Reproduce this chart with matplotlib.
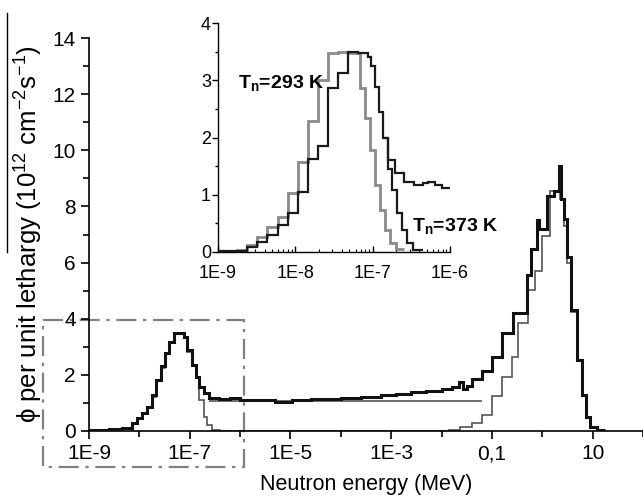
import matplotlib
matplotlib.use('Agg')
import matplotlib.pyplot as plt
import numpy as np
from matplotlib.lines import Line2D
from matplotlib.ticker import FixedLocator, FixedFormatter, MultipleLocator, LogLocator, NullFormatter

plt.rcParams['font.family'] = ['Liberation Sans', 'DejaVu Sans']
plt.rcParams['mathtext.default'] = 'regular'

# ---- main spectrum (log10 of energy in MeV for bin edges) ----
main_black_logE = [-9.0, -8.6, -8.35, -8.15, -8.05, -7.95, -7.85, -7.75, -7.67, -7.57, -7.49, -7.41,
                   -7.31, -7.21, -7.11, -7.05, -6.95, -6.87, -6.81, -6.71, -6.61, -6.41, -6.2, -6.0,
                   -5.6, -5.3, -4.97, -4.6, -4.0, -3.6, -3.2, -2.9, -2.6, -2.3, -2.0, -1.8, -1.65,
                   -1.58, -1.5, -1.39, -1.19, -0.99, -0.79, -0.59, -0.31, -0.23, -0.11, -0.06, 0.1,
                   0.24, 0.34, 0.37, 0.44, 0.5, 0.58, 0.68, 0.78, 0.86, 0.94, 1.08, 1.25]
main_black_vals = [0.02, 0.06, 0.12, 0.28, 0.46, 0.64, 0.87, 1.3, 1.82, 2.3, 2.78, 3.18, 3.5, 3.48,
                   3.35, 2.9, 2.36, 1.93, 1.57, 1.35, 1.19, 1.15, 1.17, 1.12, 1.1, 1.04, 1.1, 1.14,
                   1.18, 1.22, 1.27, 1.33, 1.38, 1.44, 1.5, 1.58, 1.76, 1.5, 1.62, 1.85, 2.12, 2.65,
                   3.5, 4.2, 5.57, 6.5, 7.5, 7.2, 8.36, 8.55, 9.45, 8.25, 7.54, 6.2, 4.3, 2.54, 1.29,
                   0.51, 0.15, 0.03]

main_gray_logE = [-9.0, -8.6, -8.35, -8.15, -8.05, -7.95, -7.85, -7.75, -7.67, -7.57, -7.49, -7.41,
                  -7.31, -7.21, -7.11, -7.05, -6.95, -6.87, -6.81, -6.71, -6.65, -6.55, -6.4, -1.85,
                  -1.64, -1.39, -1.19, -0.99, -0.79, -0.61, -0.49, -0.29, -0.15, -0.01, 0.15, 0.35,
                  0.44, 0.5, 0.58, 0.68, 0.78, 0.86, 0.94, 1.08, 1.25]
main_gray_vals = [0.02, 0.05, 0.1, 0.26, 0.44, 0.62, 0.84, 1.2, 1.78, 2.25, 2.75, 3.15, 3.48, 3.45,
                  3.3, 2.8, 2.3, 1.9, 1.1, 0.5, 0.2, 0.03, 0.0, 0.05, 0.15, 0.27, 0.57, 1.23, 1.94,
                  2.65, 3.86, 5.04, 5.7, 6.94, 8.55, 8.25, 7.3, 6.0, 4.25, 2.5, 1.25, 0.5, 0.14, 0.03]

epi_logE = [-6.61, -1.19]
epi_vals = [1.07]

# ---- inset: thermal peaks ----
in_293_logE = [-9.0, -8.75, -8.62, -8.49, -8.36, -8.23, -8.10, -7.97, -7.84, -7.71, -7.58, -7.45,
               -7.30, -7.17, -7.10, -7.04, -6.97, -6.91, -6.84, -6.78, -6.70, -6.60]
in_293_vals = [0.01, 0.03, 0.12, 0.27, 0.44, 0.62, 1.03, 1.58, 2.28, 3.0, 3.47, 3.5, 3.47, 2.86,
               2.34, 1.78, 1.17, 0.73, 0.38, 0.15, 0.05]

in_373_logE = [-9.0, -8.75, -8.62, -8.49, -8.36, -8.23, -8.10, -7.97, -7.84, -7.71, -7.58, -7.45,
               -7.32, -7.19, -7.06, -7.02, -6.97, -6.92, -6.86, -6.80, -6.75, -6.69, -6.62, -6.55,
               -6.48, -6.35]
in_373_vals = [0.01, 0.02, 0.08, 0.18, 0.3, 0.48, 0.68, 1.05, 1.62, 1.85, 2.87, 3.13, 3.5, 3.48,
               3.4, 3.25, 2.89, 2.45, 2.0, 1.45, 1.08, 0.68, 0.38, 0.15, 0.04]

in_tail_logE = [-6.86, -6.80, -6.71, -6.60, -6.47, -6.35, -6.28, -6.20, -6.10, -6.0]
in_tail_vals = [2.0, 1.61, 1.38, 1.23, 1.17, 1.2, 1.23, 1.17, 1.12]

main_xticks = [1e-9, 1e-7, 1e-5, 1e-3, 1e-1, 10]
main_xlabels = ['1E-9', '1E-7', '1E-5', '1E-3', '0,1', '10']
main_xminor = [1e-8, 1e-6, 1e-4, 1e-2, 1, 100]
in_xticks = [1e-9, 1e-8, 1e-7, 1e-6]
in_xlabels = ['1E-9', '1E-8', '1E-7', '1E-6']

# dash-dot frame around thermal region (data coords of main axes)
box_x = [1.2e-10, 1.2e-6]
box_y = [-1.3, 3.96]

fig = plt.figure(figsize=(6.43, 4.97), dpi=100)
ax = fig.add_axes([89/643, 66/497, 554/643, 393/497])

ax.stairs(main_gray_vals, 10**np.array(main_gray_logE), baseline=None, color='#555555', lw=1.2, zorder=2)
ax.stairs(epi_vals, 10**np.array(epi_logE), baseline=None, color='#555555', lw=1.2, zorder=2)
ax.stairs(main_black_vals, 10**np.array(main_black_logE), baseline=None, color='#111111', lw=2.2, zorder=3)

bx = [box_x[0], box_x[1], box_x[1], box_x[0], box_x[0]]
by = [box_y[1], box_y[1], box_y[0], box_y[0], box_y[1]]
ax.plot(bx, by, color='#808080', lw=1.6, dashes=(9, 3, 1.5, 3), clip_on=False, zorder=1)

ax.set_xscale('log')
ax.set_xlim(1e-9, 100)
ax.set_ylim(0, 14)
ax.xaxis.set_major_locator(FixedLocator(main_xticks))
ax.xaxis.set_major_formatter(FixedFormatter(main_xlabels))
ax.xaxis.set_minor_locator(FixedLocator(main_xminor))
ax.xaxis.set_minor_formatter(NullFormatter())
ax.yaxis.set_major_locator(MultipleLocator(2))
ax.yaxis.set_minor_locator(MultipleLocator(1))
ax.spines['top'].set_visible(False)
ax.spines['right'].set_visible(False)
for s in ['left', 'bottom']:
    ax.spines[s].set_linewidth(1.2)
ax.tick_params(which='major', direction='out', length=6, width=1.2, labelsize=15)
ax.tick_params(which='minor', direction='out', length=4, width=1.2)
ax.set_xlabel('Neutron energy (MeV)', fontsize=15.5, labelpad=8)
ax.set_ylabel('ϕ per unit lethargy (10$^{12}$ cm$^{-2}$s$^{-1}$)', fontsize=18.5)
ax.yaxis.set_label_coords(-0.08, 0.5)

# overline drawn above the y label
fig.add_artist(Line2D([7/643, 7/643], [1 - 13/497, 1 - 252/497], color='black', lw=1.0))

# inset
ins = fig.add_axes([218/643, 1 - 252/497, 232/643, 229/497])
ins.stairs(in_293_vals, 10**np.array(in_293_logE), baseline=None, color='#8a8a8a', lw=2.0, zorder=2)
ins.stairs(in_373_vals, 10**np.array(in_373_logE), baseline=None, color='#1a1a1a', lw=1.6, zorder=3)
ins.stairs(in_tail_vals, 10**np.array(in_tail_logE), baseline=None, color='#1a1a1a', lw=1.6, zorder=3)
ins.set_xscale('log')
ins.set_xlim(1e-9, 1e-6)
ins.set_ylim(0, 4)
ins.xaxis.set_major_locator(FixedLocator(in_xticks))
ins.xaxis.set_major_formatter(FixedFormatter(in_xlabels))
ins.xaxis.set_minor_locator(LogLocator(base=10, subs=np.arange(2, 10)))
ins.xaxis.set_minor_formatter(NullFormatter())
ins.yaxis.set_major_locator(MultipleLocator(1))
ins.yaxis.set_minor_locator(MultipleLocator(0.5))
ins.spines['top'].set_visible(False)
ins.spines['right'].set_visible(False)
for s in ['left', 'bottom']:
    ins.spines[s].set_linewidth(1.0)
ins.tick_params(axis='y', which='major', direction='out', length=4, width=1.0, labelsize=13, pad=1)
ins.tick_params(axis='y', which='minor', direction='out', length=2.5, width=1.0)
ins.tick_params(axis='x', which='major', direction='in', length=4, width=1.0, labelsize=13, pad=9)
ins.tick_params(axis='x', which='minor', direction='in', length=2.5, width=0.8)
ins.patch.set_alpha(0)

ins.text(1.8e-9, 2.95, 'T$_\\mathregular{n}$=293 K', fontsize=14, fontweight='bold', va='center', ha='left')
ins.text(3.2e-7, 0.45, 'T$_\\mathregular{n}$=373 K', fontsize=14, fontweight='bold', va='center', ha='left')

fig.savefig('out.png', dpi=100)
